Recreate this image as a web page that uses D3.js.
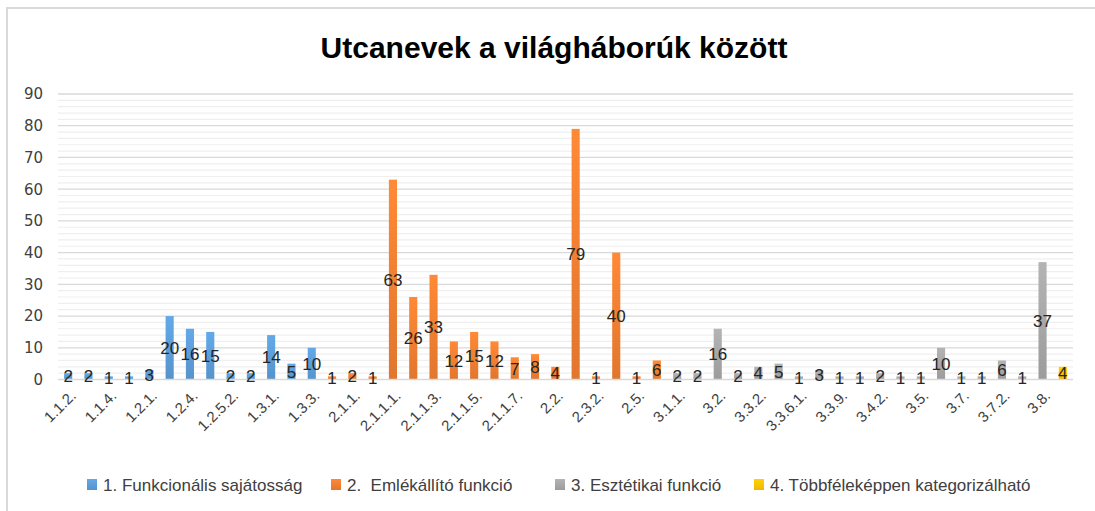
<!DOCTYPE html>
<html>
<head>
  <meta charset="utf-8">
  <title>Utcanevek a világháborúk között</title>
  <script type="text/javascript" src="https://cdn.jsdelivr.net/npm/d3@7/dist/d3.min.js"></script>
  <style>
    body { margin: 0; background: #fff; }
    svg { display: block; }
  </style>
</head>
<body>
<div id="chart"></div>

<script type="text/javascript">
// categories, in the order they appear on the x axis
var categories = [
  '1.1.2.', '1.1.3.', '1.1.4.', '1.1.5.', '1.2.1.', '1.2.3.', '1.2.4.', '1.2.5.1.', '1.2.5.2.', '1.2.6.',
  '1.3.1.', '1.3.2.', '1.3.3.', '2.1.', '2.1.1.', '2.1.1.0.', '2.1.1.1.', '2.1.1.2.', '2.1.1.3.', '2.1.1.4.',
  '2.1.1.5.', '2.1.1.6.', '2.1.1.7.', '2.1.2.', '2.2.', '2.3.1.', '2.3.2.', '2.4.', '2.5.', '2.6.',
  '3.1.1.', '3.1.2.', '3.2.', '3.3.1.', '3.3.2.', '3.3.3.', '3.3.6.1.', '3.3.7.', '3.3.9.', '3.4.1.',
  '3.4.2.', '3.4.3.', '3.5.', '3.6.', '3.7.', '3.7.1.', '3.7.2.', '3.7.3.', '3.8.', '4.'
];
// values of each series, one per category in its own block
var funkcionalis = [2, 2, 1, 1, 3, 20, 16, 15, 2, 2, 14, 5, 10];
var emlekallito = [1, 2, 1, 63, 26, 33, 12, 15, 12, 7, 8, 4, 79, 1, 40, 1, 6];
var esztetikai = [2, 2, 16, 2, 4, 5, 1, 3, 1, 1, 2, 1, 1, 10, 1, 1, 6, 1, 37];
var tobbfele = [4];
var seriesNames = ['1. Funkcionális sajátosság', '2.  Emlékállító funkció', '3. Esztétikai funkció', '4. Többféleképpen kategorizálható'];
var seriesColors = ['#5b9bd5', '#ed7d31', '#a5a5a5', '#ffc000'];
var yTicks = [0, 10, 20, 30, 40, 50, 60, 70, 80, 90];

var data = [];
[funkcionalis, emlekallito, esztetikai, tobbfele].forEach(function(arr, s) {
  arr.forEach(function(v) {
    data.push({cat: categories[data.length], value: v, s: s});
  });
});

var w = 1095, h = 511;
var svg = d3.select('#chart').append('svg')
  .attr('width', w)
  .attr('height', h);

svg.append('rect').attr('width', w).attr('height', h).attr('fill', '#fff');
// chart border
svg.append('rect')
  .attr('x', 7).attr('y', 8).attr('width', 1092).attr('height', 515)
  .attr('fill', 'none').attr('stroke', '#d9d9d9').attr('stroke-width', 2);

// gradients like the office bar fill
var defs = svg.append('defs');
seriesColors.forEach(function(c, i) {
  var g = defs.append('linearGradient')
    .attr('id', 'grad' + i)
    .attr('x1', 0).attr('y1', 0).attr('x2', 0).attr('y2', 1);
  g.append('stop').attr('offset', '0%').attr('stop-color', d3.color(c).brighter(0.25));
  g.append('stop').attr('offset', '100%').attr('stop-color', d3.color(c).darker(0.15));
});

var x = d3.scaleBand()
  .domain(categories)
  .range([58, 1073])
  .paddingInner(0.6)
  .paddingOuter(0.3);

var y = d3.scaleLinear()
  .domain([0, 90])
  .range([379.5, 94]);

// minor gridlines
svg.append('g').selectAll('line')
  .data(d3.range(2, 90, 2).filter(function(d){ return d % 10 !== 0; }))
  .enter().append('line')
  .attr('x1', 58).attr('x2', 1073)
  .attr('y1', function(d){ return y(d); })
  .attr('y2', function(d){ return y(d); })
  .attr('stroke', '#efefef')
  .attr('stroke-width', 1.2);

// major gridlines
svg.append('g').selectAll('line')
  .data(yTicks.slice(1))
  .enter().append('line')
  .attr('x1', 58).attr('x2', 1073)
  .attr('y1', function(d){ return y(d); })
  .attr('y2', function(d){ return y(d); })
  .attr('stroke', '#d9d9d9')
  .attr('stroke-width', 1.3);

// y labels
svg.append('g').selectAll('text')
  .data(yTicks)
  .enter().append('text')
  .attr('x', 43)
  .attr('y', function(d){ return y(d); })
  .attr('dy', '0.36em')
  .attr('text-anchor', 'end')
  .attr('font-family', 'DejaVu Sans, sans-serif')
  .attr('font-size', '15px')
  .attr('fill', '#404040')
  .text(function(d){ return d; });

// bars
svg.append('g').selectAll('rect')
  .data(data)
  .enter().append('rect')
  .attr('x', function(d){ return x(d.cat); })
  .attr('y', function(d){ return y(d.value); })
  .attr('width', x.bandwidth())
  .attr('height', function(d){ return y(0) - y(d.value); })
  .attr('fill', function(d){ return 'url(#grad' + d.s + ')'; });

// axis line
svg.append('line')
  .attr('x1', 58).attr('x2', 1073)
  .attr('y1', y(0)).attr('y2', y(0))
  .attr('stroke', '#d9d9d9')
  .attr('stroke-width', 1.5);

// data labels at the middle of each bar
svg.append('g').selectAll('text')
  .data(data)
  .enter().append('text')
  .attr('x', function(d){ return x(d.cat) + x.bandwidth() / 2; })
  .attr('y', function(d){ return (y(0) + y(d.value)) / 2; })
  .attr('dy', '0.36em')
  .attr('text-anchor', 'middle')
  .attr('font-family', 'Liberation Sans, Arial, sans-serif')
  .attr('font-size', '17px')
  .attr('fill', '#262626')
  .text(function(d){ return d.value; });

// x labels, every second one like the original
svg.append('g').selectAll('text')
  .data(categories.filter(function(d, i){ return i % 2 === 0; }))
  .enter().append('text')
  .attr('transform', function(d){
    return 'translate(' + (x(d) + x.bandwidth() / 2 + 5) + ',393) rotate(-45)';
  })
  .attr('text-anchor', 'end')
  .attr('dy', '0.35em')
  .attr('font-family', 'Liberation Sans, Arial, sans-serif')
  .attr('font-size', '15px')
  .attr('fill', '#404040')
  .text(function(d){ return d; });

// title
svg.append('text')
  .attr('x', 554)
  .attr('y', 58)
  .attr('text-anchor', 'middle')
  .attr('font-family', 'Liberation Sans, Arial, sans-serif')
  .attr('font-weight', 'bold')
  .attr('font-size', '30px')
  .attr('fill', '#000')
  .text('Utcanevek a világháborúk között');

// legend, item positions taken from the original
var legendX = [87, 331, 555, 754];
var legend = svg.append('g').attr('transform', 'translate(0,485)');
seriesNames.forEach(function(name, i) {
  var item = legend.append('g').attr('transform', 'translate(' + legendX[i] + ',0)');
  item.append('rect')
    .attr('x', 0).attr('y', -6)
    .attr('width', 10).attr('height', 11)
    .attr('fill', 'url(#grad' + i + ')');
  item.append('text')
    .attr('x', 16).attr('y', 0)
    .attr('dy', '0.35em')
    .attr('font-family', 'Liberation Sans, Arial, sans-serif')
    .attr('font-size', '17px')
    .attr('fill', '#404040')
    .style('white-space', 'pre')
    .text(name);
});
</script>

</body>
</html>
